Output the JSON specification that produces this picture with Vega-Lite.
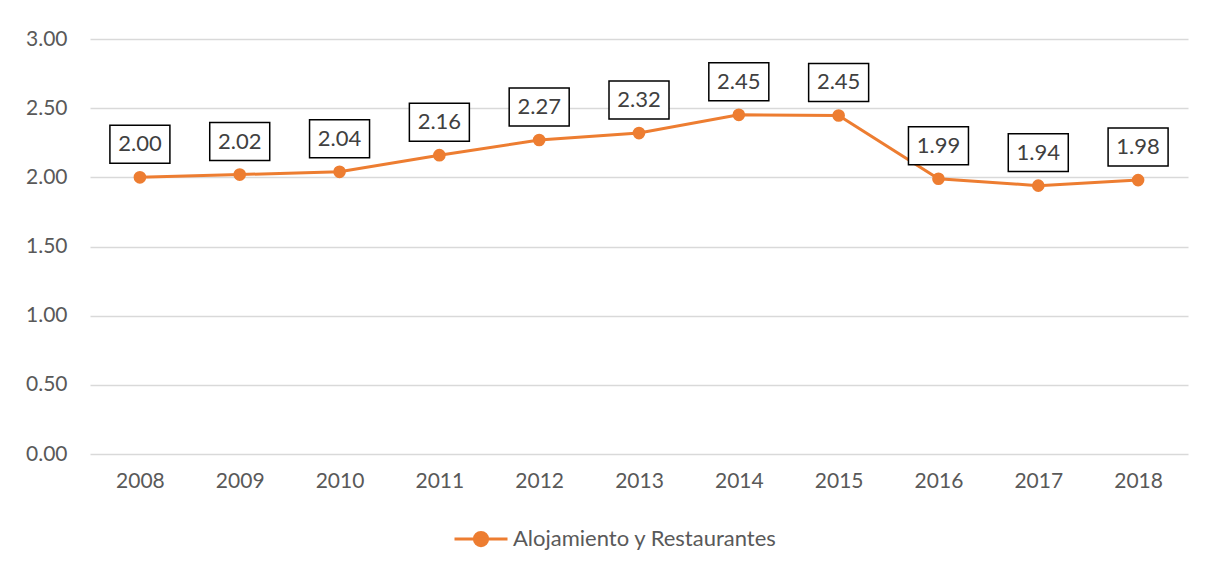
{
  "$schema": "https://vega.github.io/schema/vega-lite/v6.json",
  "autosize": "none",
  "width": 1098,
  "height": 415,
  "padding": {"left": 90, "top": 39, "right": 20, "bottom": 118},
  "background": "white",
  "config": {
    "view": {"stroke": null},
    "font": "Lato",
    "axis": {"labelFont": "Lato", "labelFontSize": 21, "labelColor": "#595959", "domain": false, "ticks": false, "title": null},
    "legend": {"labelFont": "Lato", "labelFontSize": 22, "labelColor": "#595959", "labelLimit": 0}
  },
  "data": {"values": [
    {"year": "2008", "value": 2.00, "series": "Alojamiento y Restaurantes"},
    {"year": "2009", "value": 2.02, "series": "Alojamiento y Restaurantes"},
    {"year": "2010", "value": 2.04, "series": "Alojamiento y Restaurantes"},
    {"year": "2011", "value": 2.16, "series": "Alojamiento y Restaurantes"},
    {"year": "2012", "value": 2.27, "series": "Alojamiento y Restaurantes"},
    {"year": "2013", "value": 2.32, "series": "Alojamiento y Restaurantes"},
    {"year": "2014", "value": 2.452, "series": "Alojamiento y Restaurantes"},
    {"year": "2015", "value": 2.447, "series": "Alojamiento y Restaurantes"},
    {"year": "2016", "value": 1.99, "series": "Alojamiento y Restaurantes"},
    {"year": "2017", "value": 1.94, "series": "Alojamiento y Restaurantes"},
    {"year": "2018", "value": 1.98, "series": "Alojamiento y Restaurantes"}
  ]},
  "encoding": {
    "x": {"field": "year", "type": "ordinal", "scale": {"paddingInner": 0, "paddingOuter": 0.5}, "axis": {"labelAngle": 0, "labelPadding": 16, "grid": false}},
    "y": {"field": "value", "type": "quantitative", "scale": {"domain": [0, 3], "nice": false}, "axis": {"values": [0, 0.5, 1, 1.5, 2, 2.5, 3], "format": ".2f", "labelPadding": 23, "grid": true, "gridColor": "#d9d9d9", "gridWidth": 1.5}}
  },
  "layer": [
    {
      "mark": {"type": "line", "strokeWidth": 3},
      "encoding": {
        "color": {"field": "series", "type": "nominal", "scale": {"domain": ["Alojamiento y Restaurantes"], "range": ["#ED7D31"]},
          "legend": {"title": null, "orient": "none", "legendX": 363, "legendY": 472, "padding": 0, "labelOffset": 4,
            "symbolType": "M-1,0H1M-0.25,0A0.25,0.25 0 1,0 0.25,0A0.25,0.25 0 1,0 -0.25,0",
            "symbolSize": 2809, "symbolStrokeWidth": 3, "symbolFillColor": "#ED7D31", "symbolStrokeColor": "#ED7D31", "symbolOpacity": 1}}
      }
    },
    {
      "mark": {"type": "point", "filled": true, "size": 160, "opacity": 1, "color": "#ED7D31"}
    },
    {
      "mark": {"type": "point", "shape": "M-1,-0.633H1V0.633H-1Z", "size": 3600, "filled": false, "fill": "white", "fillOpacity": 1, "stroke": "black", "strokeWidth": 1.5, "opacity": 1, "yOffset": -33}
    },
    {
      "mark": {"type": "text", "font": "Lato", "fontSize": 22, "color": "#404040", "yOffset": -33, "baseline": "middle", "align": "center"},
      "encoding": {"text": {"field": "value", "type": "quantitative", "format": ".2f"}}
    }
  ]
}
